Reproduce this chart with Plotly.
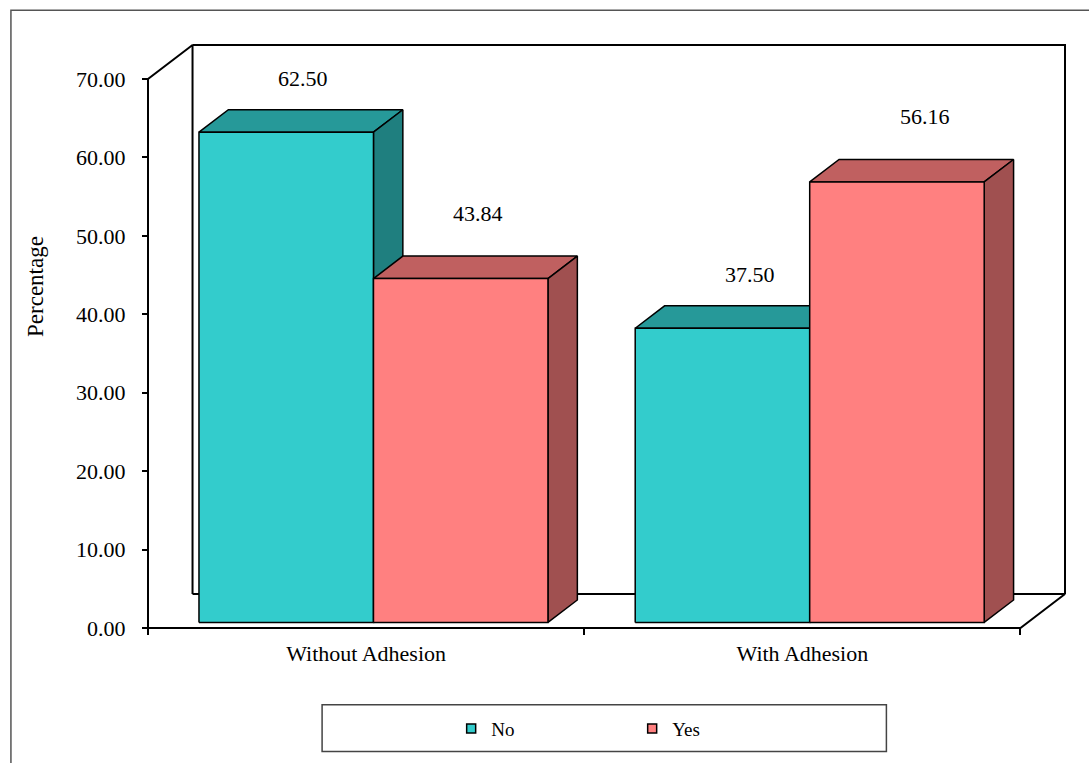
import plotly.graph_objects as go

# ---- data -------------------------------------------------------------
categories = ["Without Adhesion", "With Adhesion"]
series_names = ["No", "Yes"]
no_values = [62.50, 37.50]
yes_values = [43.84, 56.16]
y_tick_values = [0, 10, 20, 30, 40, 50, 60, 70]

# ---- styling ----------------------------------------------------------
FONT = "Liberation Serif, Times New Roman, serif"
W, H = 1089, 763
face_colors = {
    "No": {"front": "#33CCCC", "top": "#269999", "side": "#1F7F7F"},
    "Yes": {"front": "#FF8080", "top": "#C06060", "side": "#A05050"},
}
label_yshift = {"No": 59, "Yes": 71}
label_xshift = [17, 28]

# pixel scale of the pseudo-3D box
PX_PER_CAT = 436.0
PX_PER_VAL = 7.851
PAD_PX = 4.0
ORIGIN_X_PX = 148.0
ORIGIN_Y_PX = 628.3

DEPTH_X = 44.5 / PX_PER_CAT   # receding depth, category units
DEPTH_Y = 34.0 / PX_PER_VAL   # receding depth, value units
Y_MAX = 70.0
BAR_W = 0.4
BAR_Z0 = 0.165
BAR_DZ = 0.66

n_cat = len(categories)
x_lo = -0.5 - PAD_PX / PX_PER_CAT
x_hi = n_cat - 0.5 + DEPTH_X + PAD_PX / PX_PER_CAT
y_lo = -PAD_PX / PX_PER_VAL
y_hi = Y_MAX + DEPTH_Y + PAD_PX / PX_PER_VAL

plot_w = (x_hi - x_lo) * PX_PER_CAT
plot_h = (y_hi - y_lo) * PX_PER_VAL
m_l = ORIGIN_X_PX - PAD_PX
m_b = H - (ORIGIN_Y_PX + PAD_PX)
m_r = W - m_l - plot_w
m_t = H - m_b - plot_h


def px_x(px):
    return (px - m_l) / plot_w


def px_y(py):
    return (H - m_b - py) / plot_h


def proj(x, y, z):
    return x + z * DEPTH_X, y + z * DEPTH_Y


def poly(points):
    xs, ys = [], []
    for p in points:
        if p is None:
            xs.append(None)
            ys.append(None)
        else:
            px, py = proj(*p)
            xs.append(px)
            ys.append(py)
    return xs, ys


fig = go.Figure()

# walls and floor of the box
x_left, x_right = -0.5, n_cat - 0.5
frame_pts = [
    (x_left, 0, 0), (x_left, Y_MAX, 0), (x_left, Y_MAX, 1), (x_left, 0, 1), None,
    (x_left, 0, 0), (x_right, 0, 0), (x_right, 0, 1), (x_left, 0, 1), None,
    (x_left, Y_MAX, 1), (x_right, Y_MAX, 1), (x_right, 0, 1),
]
fx, fy = poly(frame_pts)
fig.add_trace(go.Scatter(x=fx, y=fy, mode="lines", line=dict(color="black", width=2),
                         hoverinfo="skip", showlegend=False))

# bars: front, top and side faces
series_values = {"No": no_values, "Yes": yes_values}
z0, z1 = BAR_Z0, BAR_Z0 + BAR_DZ
annotations = []
for i, cat in enumerate(categories):
    for s, name in enumerate(series_names):
        v = series_values[name][i]
        x0 = i - BAR_W + s * BAR_W
        x1 = x0 + BAR_W
        faces = {
            "front": [(x0, 0, z0), (x1, 0, z0), (x1, v, z0), (x0, v, z0), (x0, 0, z0)],
            "top": [(x0, v, z0), (x1, v, z0), (x1, v, z1), (x0, v, z1), (x0, v, z0)],
            "side": [(x1, 0, z0), (x1, v, z0), (x1, v, z1), (x1, 0, z1), (x1, 0, z0)],
        }
        for face in ("top", "side", "front"):
            xs, ys = poly(faces[face])
            fig.add_trace(go.Scatter(
                x=xs, y=ys, mode="lines", fill="toself",
                fillcolor=face_colors[name][face],
                line=dict(color="black", width=1.5),
                hoverinfo="skip", showlegend=False,
            ))
        lx, _ = proj((x0 + x1) / 2, v, z0)
        annotations.append(dict(
            x=lx, y=v, xref="x", yref="y",
            text=f"{v:.2f}", showarrow=False,
            xshift=label_xshift[i], yshift=label_yshift[name],
            font=dict(family=FONT, size=22, color="black"),
        ))

# y-axis title
annotations.append(dict(
    x=px_x(35), y=px_y(286), xref="paper", yref="paper",
    text="Percentage", textangle=-90, showarrow=False,
    xanchor="center", yanchor="middle",
    font=dict(family=FONT, size=23, color="black"),
))

# legend entries
for name in series_names:
    fig.add_trace(go.Scatter(
        x=[None], y=[None], mode="markers", name=name,
        marker=dict(symbol="square", size=9, color=face_colors[name]["front"],
                    line=dict(color="black", width=1.5)),
    ))

shapes = [
    # outer chart frame
    dict(type="rect", xref="paper", yref="paper",
         x0=px_x(11), x1=px_x(1100), y0=px_y(780), y1=px_y(10),
         line=dict(color="#555555", width=1.5), fillcolor="rgba(0,0,0,0)", layer="below"),
    # legend box
    dict(type="rect", xref="paper", yref="paper",
         x0=px_x(322), x1=px_x(886), y0=px_y(752), y1=px_y(705),
         line=dict(color="#444444", width=1.5), fillcolor="rgba(0,0,0,0)"),
]

fig.update_layout(
    width=W, height=H,
    margin=dict(l=m_l, r=m_r, t=m_t, b=m_b, pad=0),
    paper_bgcolor="white", plot_bgcolor="white",
    font=dict(family=FONT, color="black"),
    shapes=shapes,
    annotations=annotations,
    showlegend=True,
    legend=dict(
        orientation="h", x=px_x(451), y=px_y(729), xanchor="left", yanchor="middle",
        font=dict(family=FONT, size=19, color="black"),
        bgcolor="rgba(0,0,0,0)", borderwidth=0,
        itemwidth=30, entrywidth=136,
    ),
    xaxis=dict(
        range=[x_lo, x_hi], showgrid=False, zeroline=False, showline=False,
        tickmode="array", tickvals=list(range(n_cat)), ticktext=categories,
        ticks="", tickfont=dict(family=FONT, size=22, color="black"),
        anchor="free", position=PAD_PX / plot_h,
        minor=dict(tickmode="array", tickvals=[k - 0.5 for k in range(n_cat + 1)],
                   ticks="outside", ticklen=6, tickwidth=1.5, tickcolor="black"),
        ticklabelstandoff=10,
    ),
    yaxis=dict(
        range=[y_lo, y_hi], showgrid=False, zeroline=False, showline=False,
        tickmode="array", tickvals=y_tick_values, tickformat=".2f",
        ticks="outside", ticklen=6, tickwidth=1.5, tickcolor="black",
        tickfont=dict(family=FONT, size=22, color="black"),
        anchor="free", position=PAD_PX / plot_w,
        ticklabelstandoff=12,
    ),
)

fig.write_html("out.html")
